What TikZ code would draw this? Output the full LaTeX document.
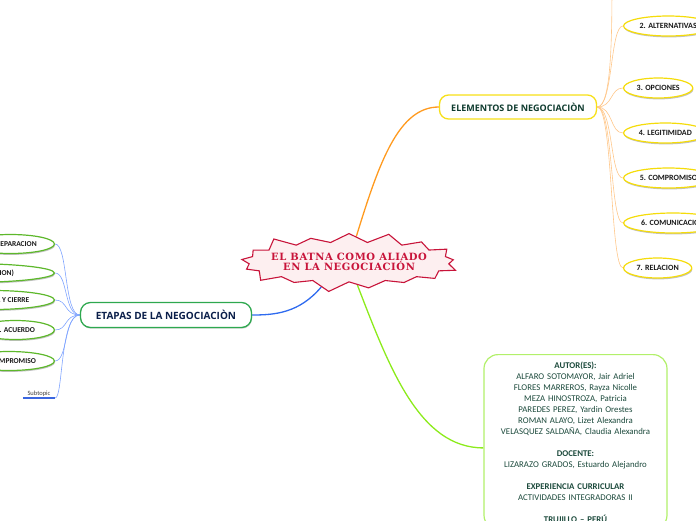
\documentclass[tikz,border=0pt]{standalone}
\usepackage{fontspec}
\setmainfont{Carlito}
\newfontfamily\topicfont{Open Sans}
\newfontfamily\burstfont{DejaVu Serif}[LetterSpace=6]
\usetikzlibrary{shapes.geometric,shapes.symbols,shadows,backgrounds}

\definecolor{burstred}{HTML}{C8143A}
\definecolor{burstfill}{HTML}{FDEFF0}
\definecolor{lineorange}{HTML}{FF9A1F}
\definecolor{thinorange}{HTML}{FFC78A}
\definecolor{topicyellow}{HTML}{F7E017}
\definecolor{childyellow}{HTML}{F5DC0A}
\definecolor{elemtext}{HTML}{0E3B2E}
\definecolor{topicgreen}{HTML}{2EA84F}
\definecolor{etapastext}{HTML}{0B1F4A}
\definecolor{childgreen}{HTML}{5DB82B}
\definecolor{lineblue}{HTML}{2F6BEF}
\definecolor{thinblue}{HTML}{7FA4FF}
\definecolor{subblue}{HTML}{3A66E0}
\definecolor{linelime}{HTML}{8CEB1C}
\definecolor{autorlime}{HTML}{B2F06A}
\definecolor{autortext}{HTML}{1C4A3C}

\begin{document}
\begin{tikzpicture}[x=1pt, y=-1pt,
  root/.style={starburst, starburst point height=12pt, draw=burstred, line width=1.1pt, fill=burstfill, minimum width=190pt, minimum height=50pt, align=center, text=burstred, font=\burstfont\bfseries\fontsize{10}{10.5}\selectfont, inner xsep=-7pt, inner ysep=5pt},
  elemtopic/.style={draw=topicyellow, line width=1.3pt, rounded corners=9pt, fill=white, minimum width=157pt, minimum height=24pt, text=elemtext, font=\topicfont\bfseries\fontsize{9}{10}\selectfont},
  stagetopic/.style={draw=topicgreen, line width=1.3pt, rounded corners=10pt, fill=white, minimum width=171pt, minimum height=25pt, text=etapastext, font=\topicfont\bfseries\fontsize{10}{11}\selectfont, drop shadow={shadow xshift=0.5pt, shadow yshift=-1.2pt, fill=black!30, opacity=0.6}},
  elemchild/.style={ellipse, draw=childyellow, line width=1.2pt, fill=white, minimum height=20pt, inner xsep=3pt, inner ysep=1pt, text=black!90, font=\bfseries\fontsize{8}{9}\selectfont, drop shadow={shadow xshift=0.6pt, shadow yshift=-1.4pt, fill=black!40, opacity=0.6}},
  stagechild/.style={ellipse, draw=childgreen, line width=1.2pt, fill=white, minimum height=19pt, inner xsep=3pt, inner ysep=1pt, text=black!90, font=\bfseries\fontsize{7.5}{8.5}\selectfont, drop shadow={shadow xshift=0.6pt, shadow yshift=-1.4pt, fill=black!40, opacity=0.6}},
  autorbox/.style={draw=autorlime, line width=1.2pt, rounded corners=14pt, fill=white, text width=171pt, inner xsep=6pt, inner ysep=7pt, align=center, text=autortext, font=\fontsize{8.8}{11}\selectfont},
  subtopic/.style={inner sep=1.5pt, minimum width=32pt, text=black!75, font=\fontsize{6.5}{7}\selectfont},
  mainorange/.style={draw=lineorange, line width=1.3pt},
  mainblue/.style={draw=lineblue, line width=1.3pt},
  mainlime/.style={draw=linelime, line width=1.3pt},
  thinorange/.style={draw=thinorange, line width=0.6pt},
  thinblue/.style={draw=thinblue, line width=0.6pt}
]
\useasboundingbox (0,0) rectangle (696,520);
\clip (0,0) rectangle (696,520);

\node[root] (batna) at (349,262) {EL BATNA COMO ALIADO\\EN LA NEGOCIACIÓN};
\node[elemtopic] (elem) at (518,107) {ELEMENTOS DE NEGOCIACIÒN};
\node[stagetopic] (etapas) at (166,315) {ETAPAS DE LA NEGOCIACIÒN};
\node[autorbox, anchor=north] (autor) at (575.5,354) {\textbf{AUTOR(ES):}\\
ALFARO SOTOMAYOR, Jair Adriel\\
FLORES MARREROS, Rayza Nicolle\\
MEZA HINOSTROZA, Patricia\\
PAREDES PEREZ, Yardin Orestes\\
ROMAN ALAYO, Lizet Alexandra\\
VELASQUEZ SALDAÑA, Claudia Alexandra\\[11pt]
\textbf{DOCENTE:}\\
LIZARAZO GRADOS, Estuardo Alejandro\\[11pt]
\textbf{EXPERIENCIA CURRICULAR}\\
ACTIVIDADES INTEGRADORAS II\\[11pt]
\textbf{TRUJILLO – PERÚ}};

\coordinate (e1) at (612,-30);
\node[elemchild, anchor=west] (e2) at (623,26) {2. ALTERNATIVAS};
\node[elemchild, anchor=west] (e3) at (623,88) {3. OPCIONES};
\node[elemchild, anchor=west] (e4) at (623,133) {4. LEGITIMIDAD};
\node[elemchild, anchor=west] (e5) at (623,178) {5. COMPROMISO};
\node[elemchild, anchor=west] (e6) at (623,223) {6. COMUNICACION};
\node[elemchild, anchor=west] (e7) at (623,268) {7. RELACION};

\node[stagechild, anchor=east, minimum width=88pt] (s1) at (55,244) {1. PREPARACION};
\node[stagechild, anchor=east, minimum width=175pt] (s2) at (55,273) {2. INTERCAMBIO (DISCUSION)};
\node[stagechild, anchor=east, minimum width=124pt] (s3) at (55,300) {3. PROPUESTA Y CIERRE};
\node[stagechild, anchor=east, minimum width=78pt] (s4) at (55,330) {4. ACUERDO};
\node[stagechild, anchor=east, minimum width=91pt] (s5) at (55,361) {5. COMPROMISO};
\node[subtopic, anchor=south] (sub) at (39,398) {Subtopic};
\draw[subblue, line width=1.6pt] (sub.south west) -- (sub.south east);

\begin{scope}[on background layer]
\draw[mainorange] (batna.74) .. controls +(23,-75) and +(-40,0) .. (elem.west);
\draw[mainblue] (batna.222) .. controls +(-22,26) and +(23,0) .. (etapas.east);
\draw[mainlime] (batna.290) .. controls +(32,83) and +(-64,0) .. ([yshift=-6pt]autor.west);
\draw[thinorange] (elem.east) .. controls +(15,0) and +(0,60) .. (e1);
\foreach \n in {2,...,7}
  \draw[thinorange] (elem.east) .. controls +(16,0) and +(-13,0) .. (e\n.west);
\foreach \n in {1,...,5}
  \draw[thinblue] (etapas.west) .. controls +(-16,0) and +(13,0) .. (s\n.east);
\draw[thinblue] (etapas.west) .. controls +(-20,0) and +(8,0) .. (sub.south east);
\end{scope}
\end{tikzpicture}
\end{document}
